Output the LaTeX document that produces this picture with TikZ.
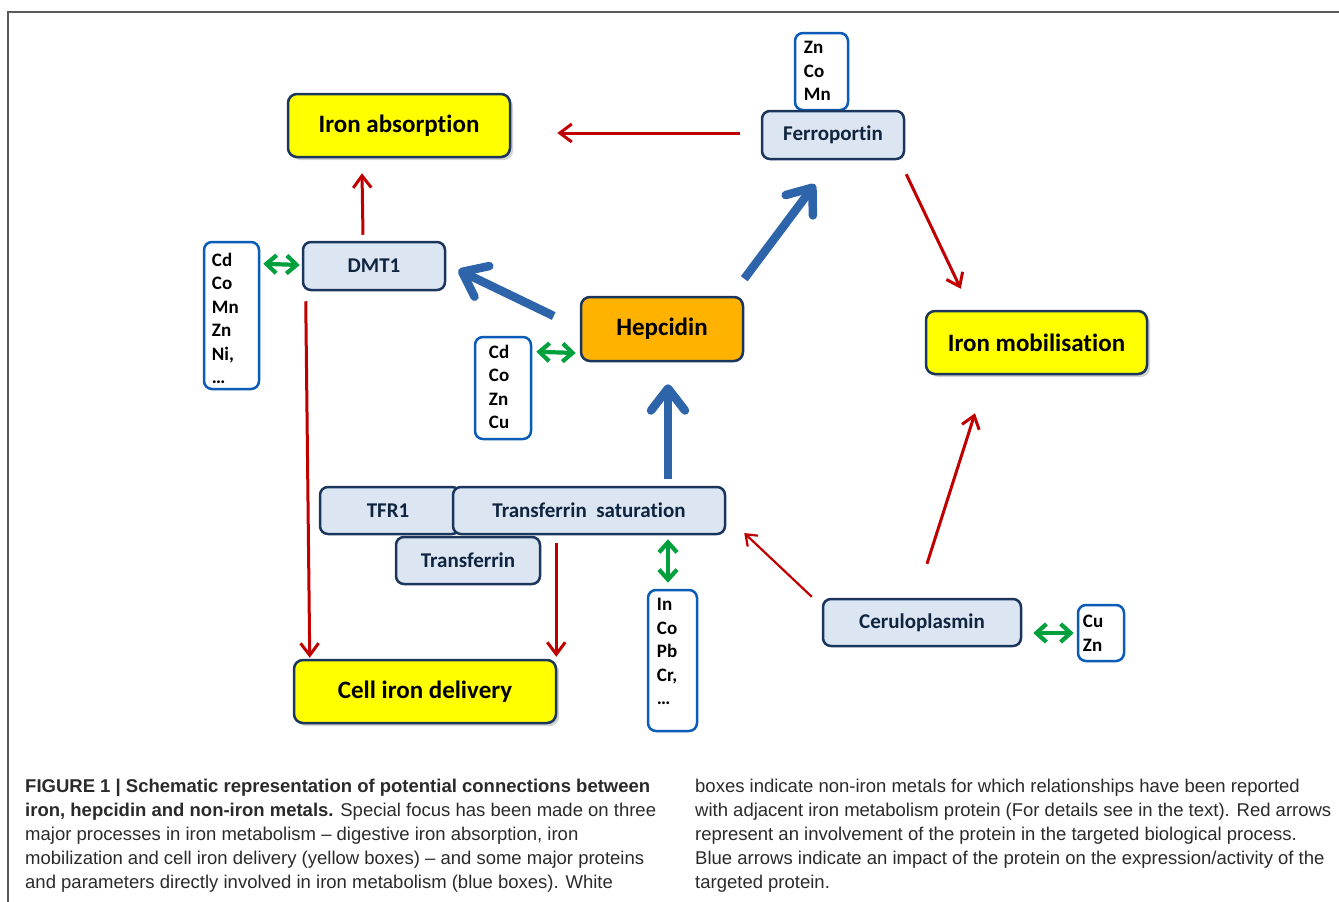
\documentclass[tikz,border=0pt]{standalone}
\usepackage{fontspec}
\setmainfont{Carlito}
\newfontfamily\diagfont[Ligatures=NoCommon]{Carlito}
\newfontfamily\capfont{Liberation Sans}
\usetikzlibrary{arrows.meta,calc,shadows}
\definecolor{navy}{HTML}{1B365D}
\definecolor{navytext}{HTML}{0F243E}
\definecolor{lblue}{HTML}{DCE6F2}
\definecolor{yel}{HTML}{FFFF00}
\definecolor{orng}{HTML}{FFB300}
\definecolor{mblue}{HTML}{0A5CB8}
\definecolor{redarr}{HTML}{C00000}
\definecolor{bluearr}{HTML}{2E64AA}
\definecolor{grn}{HTML}{00A03C}
\definecolor{captxt}{HTML}{2A2A2A}
\tikzset{
  procbox/.style={draw=navy, line width=2.5pt, fill=yel, rounded corners=9pt,
    drop shadow={shadow xshift=3pt, shadow yshift=-3pt, opacity=0.35},
    font=\diagfont\bfseries\fontsize{25}{29}\selectfont, text=black, inner sep=0pt},
  protbox/.style={draw=navy, line width=2.5pt, fill=lblue, rounded corners=8pt,
    font=\diagfont\bfseries\fontsize{21}{25}\selectfont, text=navytext, inner sep=0pt},
  hepbox/.style={draw=navy, line width=2.5pt, fill=orng, rounded corners=9pt,
    font=\diagfont\bfseries\fontsize{25}{29}\selectfont, text=black, inner sep=0pt},
  metalbox/.style={draw=mblue, line width=2.5pt, fill=white, rounded corners=8pt, inner sep=0pt},
  metaltext/.style={anchor=base west, inner sep=0pt, align=left,
    font=\diagfont\bfseries\fontsize{19}{23.5}\selectfont, text=black},
  redline/.style={draw=redarr, line width=3pt, -{Straight Barb[length=12pt,width=18pt]}},
  thinred/.style={draw=redarr, line width=2.2pt, -{Straight Barb[length=10pt,width=15pt]}},
  bluethick/.style={draw=bluearr, line width=8.5pt, -{Straight Barb[length=22pt,width=34pt,round]}},
  grnarr/.style={draw=grn, line width=4.2pt, {Straight Barb[length=10pt,width=18pt]}-{Straight Barb[length=10pt,width=18pt]}},
  capline/.style={anchor=base west, inner sep=0pt, text=captxt, font=\capfont\fontsize{18.5}{22}\selectfont}
}
\begin{document}
\begin{tikzpicture}[x=1pt,y=-1pt]
\useasboundingbox (0,0) rectangle (1339,902);
\draw[gray!70!black, line width=1.2pt] (1339,12) -- (8,12) -- (8,902);

% metal boxes (text anchored at the baseline of its last line)
\node[metalbox, minimum width=53pt, minimum height=77pt] (mtop) at (821.5,71.5) {};
\node[metaltext] (mtopt) at ($(mtop.north west)+(10,69)$) {Zn\\Co\\Mn};
\node[metalbox, minimum width=55pt, minimum height=147pt] (mleft) at (231.5,315.5) {};
\node[metaltext] (mleftt) at ($(mleft.north west)+(9,143)$) {Cd\\Co\\Mn\\Zn\\Ni,\\…};
\node[metalbox, minimum width=56pt, minimum height=102pt] (mhep) at (503,388) {};
\node[metaltext] (mhept) at ($(mhep.north west)+(15,93)$) {Cd\\Co\\Zn\\Cu};
\node[metalbox, minimum width=49pt, minimum height=141pt] (min) at (672.5,660.5) {};
\node[metaltext] (mint) at ($(min.north west)+(10,116)$) {In\\Co\\Pb\\Cr,\\…};
\node[metalbox, minimum width=46pt, minimum height=56pt] (mcu) at (1101,633) {};
\node[metaltext] (mcut) at ($(mcu.north west)+(6,47.5)$) {Cu\\Zn};

% process boxes
\node[procbox, minimum width=222pt, minimum height=63pt] (absorb) at (399,125.5) {Iron absorption};
\node[procbox, minimum width=221pt, minimum height=63pt] (mob) at (1036.5,342.5) {Iron mobilisation};
\node[procbox, minimum width=262pt, minimum height=63pt] (cell) at (425,691.5) {Cell iron delivery};

% protein boxes
\node[protbox, minimum width=142pt, minimum height=48pt] (ferro) at (833,135) {Ferroportin};
\node[protbox, minimum width=142pt, minimum height=48pt] (dmt) at (374,266) {DMT1};
\node[hepbox, minimum width=162pt, minimum height=64pt] (hep) at (662,329) {Hepcidin};
\node[protbox, minimum width=140pt, minimum height=47pt] (tfr) at (390,510.5) {\hspace*{-4pt}TFR1};
\node[protbox, minimum width=272pt, minimum height=47pt] (tsat) at (589,510.5) {Transferrin\ \ saturation};
\node[protbox, minimum width=144pt, minimum height=47pt] (tf) at (468,560.5) {Transferrin};
\node[protbox, minimum width=198pt, minimum height=47pt] (cerulo) at (922,622.5) {Ceruloplasmin};

% red arrows
\draw[redline] ($(ferro.west)+(-21,-2)$) -- ($(absorb.east)+(46,7.5)$);
\draw[redline] ($(dmt.north)+(-11,-6)$) -- ($(absorb.south)+(-37,15)$);
\draw[redline] ($(ferro.south east)+(1,14)$) -- ($(mob.north west)+(36,-21)$);
\draw[redline] ($(dmt.south west)+(4,10)$) -- ($(cell.north west)+(17,-1)$);
\draw[redline] ($(tf.east)+(15,-17.5)$) -- ($(cell.north east)+(-1,-2)$);
\draw[thinred] ($(cerulo.north west)+(-10,-1)$) -- ($(tsat.east)+(18,22.5)$);
\draw[redline] ($(cerulo.north)+(5,-34)$) -- ($(mob.south)+(-61.5,38)$);

% blue arrows
\draw[bluethick] ($(hep.west)+(-26,-13)$) -- ($(dmt.east)+(12,4)$);
\draw[bluethick] ($(hep.north east)+(0,-17)$) -- ($(ferro.south)+(-18,24)$);
\draw[bluethick] ($(tsat.north)+(79,-7)$) -- ($(hep.south)+(6,22)$);

% green double arrows
\draw[grnarr] ($(mleft.north east)+(3,23)$) -- ($(dmt.west)+(-2,-1)$);
\draw[grnarr] ($(mhep.north east)+(4,16)$) -- ($(hep.west)+(-4,24)$);
\draw[grnarr] ($(tsat.south)+(79,4)$) -- ($(min.north)+(-4.5,-6)$);
\draw[grnarr] ($(cerulo.east)+(11,10.5)$) -- ($(mcu.west)+(-3,0)$);

% caption
\node[capline] (c1) at (25,792) {\bfseries FIGURE 1 | Schematic representation of potential connections between};
\node[capline] (c2) at (25,816) {\textbf{iron, hepcidin and non-iron metals.} Special focus has been made on three};
\node[capline] (c3) at (25,840) {major processes in iron metabolism – digestive iron absorption, iron};
\node[capline] (c4) at (25,864) {mobilization and cell iron delivery (yellow boxes) – and some major proteins};
\node[capline] (c5) at (25,888) {and parameters directly involved in iron metabolism (blue boxes). White};
\node[capline] (d1) at (695,792) {boxes indicate non-iron metals for which relationships have been reported};
\node[capline] (d2) at (695,816) {with adjacent iron metabolism protein (For details see in the text). Red arrows};
\node[capline] (d3) at (695,840) {represent an involvement of the protein in the targeted biological process.};
\node[capline] (d4) at (695,864) {Blue arrows indicate an impact of the protein on the expression/activity of the};
\node[capline] (d5) at (695,888) {targeted protein.};
\end{tikzpicture}
\end{document}
